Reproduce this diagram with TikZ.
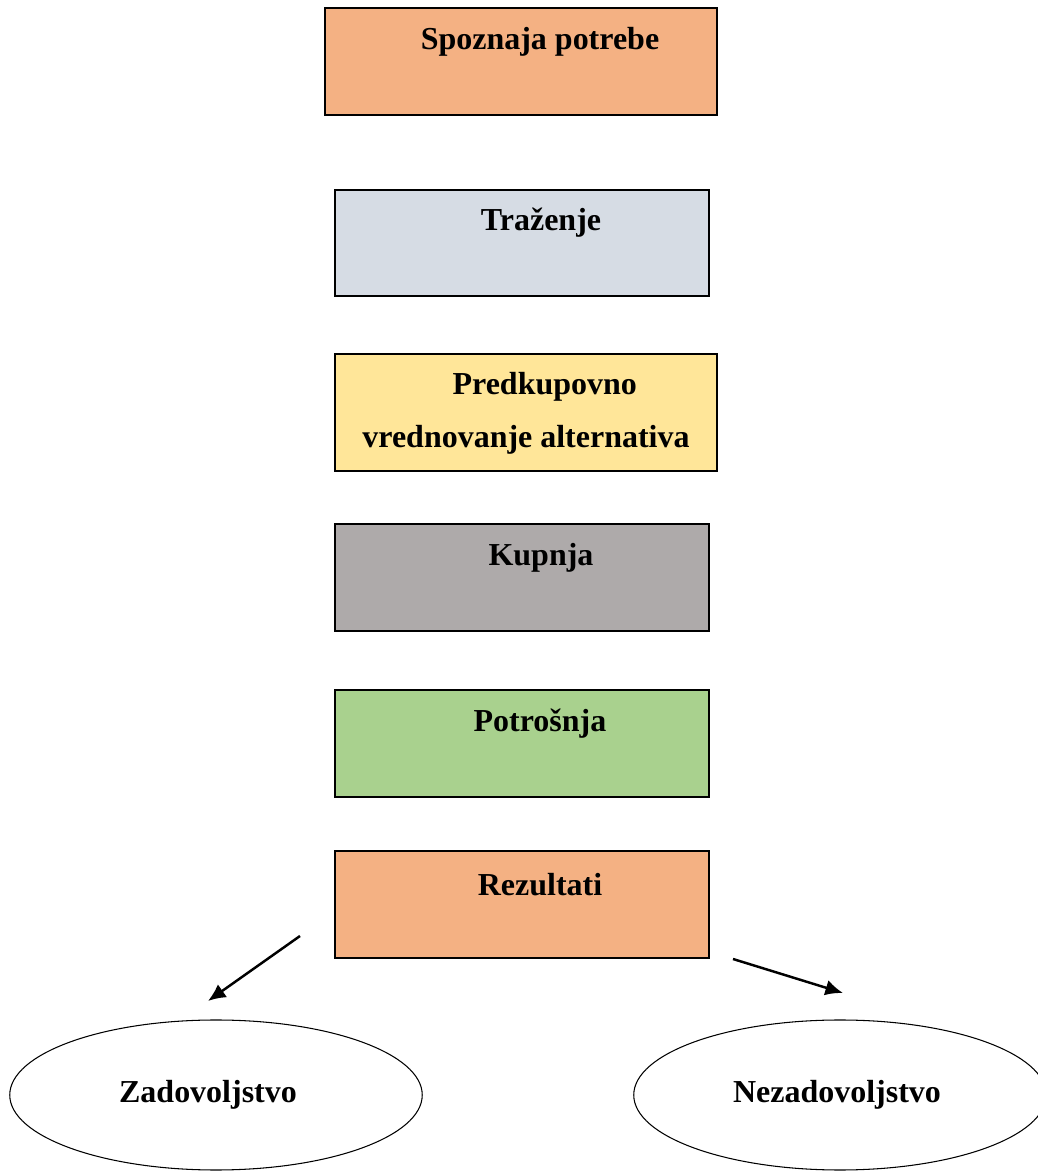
\documentclass[tikz,border=0pt]{standalone}
\usepackage{fontspec}
\setmainfont{Liberation Serif}
\usepackage{tikz}
\usetikzlibrary{arrows.meta,shapes.geometric}
\definecolor{peach}{HTML}{F4B183}
\definecolor{bluegrey}{HTML}{D6DCE4}
\definecolor{paleyellow}{HTML}{FFE699}
\definecolor{warmgrey}{HTML}{AEAAAA}
\definecolor{leafgreen}{HTML}{A9D18E}
\tikzset{
  stepbox/.style={draw,line width=0.8pt,minimum height=2.14cm,inner sep=0pt},
  steptext/.style={font=\fontsize{18.2}{30}\selectfont\bfseries,align=center},
  outcome/.style={draw,ellipse,line width=0.6pt,minimum width=8.25cm,minimum height=3cm,
    font=\fontsize{18.2}{22}\selectfont\bfseries},
  resarrow/.style={-{Latex[length=10pt,width=9pt]},line width=1.4pt}
}
\begin{document}
\begin{tikzpicture}
\useasboundingbox (0,0) rectangle (20.74,23.46);
%steps
\node[stepbox,fill=peach,minimum width=7.84cm] (spoznaja) at (10.42,22.23) {};
\node[steptext] (spoznajaT) at (10.8,22.62) {Spoznaja potrebe};
\node[stepbox,fill=bluegrey,minimum width=7.48cm,minimum height=2.12cm] (trazenje) at (10.44,18.6) {};
\node[steptext] (trazenjeT) at (10.82,19.0) {Traženje};
\node[stepbox,fill=paleyellow,minimum width=7.64cm,minimum height=2.34cm] (predkup) at (10.52,15.21) {};
\node[steptext] (predkupT) at (10.52,15.19) {\hspace*{0.75cm}Predkupovno\\vrednovanje alternativa};
\node[stepbox,fill=warmgrey,minimum width=7.48cm] (kupnja) at (10.44,11.91) {};
\node[steptext] (kupnjaT) at (10.82,12.3) {Kupnja};
\node[stepbox,fill=leafgreen,minimum width=7.48cm] (potrosnja) at (10.44,8.59) {};
\node[steptext] (potrosnjaT) at (10.8,8.98) {Potrošnja};
\node[stepbox,fill=peach,minimum width=7.48cm] (rezultati) at (10.44,5.37) {};
\node[steptext] (rezultatiT) at (10.8,5.76) {Rezultati};
%outcomes
\node[outcome] (zad) at (4.32,1.56) {Zadovoljstvo\hspace*{0.32cm}};
\node[outcome] (nezad) at (16.8,1.56) {Nezadovoljstvo\hspace*{0.12cm}};
%arrows
\coordinate (lfrom) at (6.0,4.74);
\coordinate (lto) at (4.16,3.44);
\coordinate (rfrom) at (14.66,4.28);
\coordinate (rto) at (16.86,3.6);
\draw[resarrow] (lfrom) -- (lto);
\draw[resarrow] (rfrom) -- (rto);
\end{tikzpicture}
\end{document}
